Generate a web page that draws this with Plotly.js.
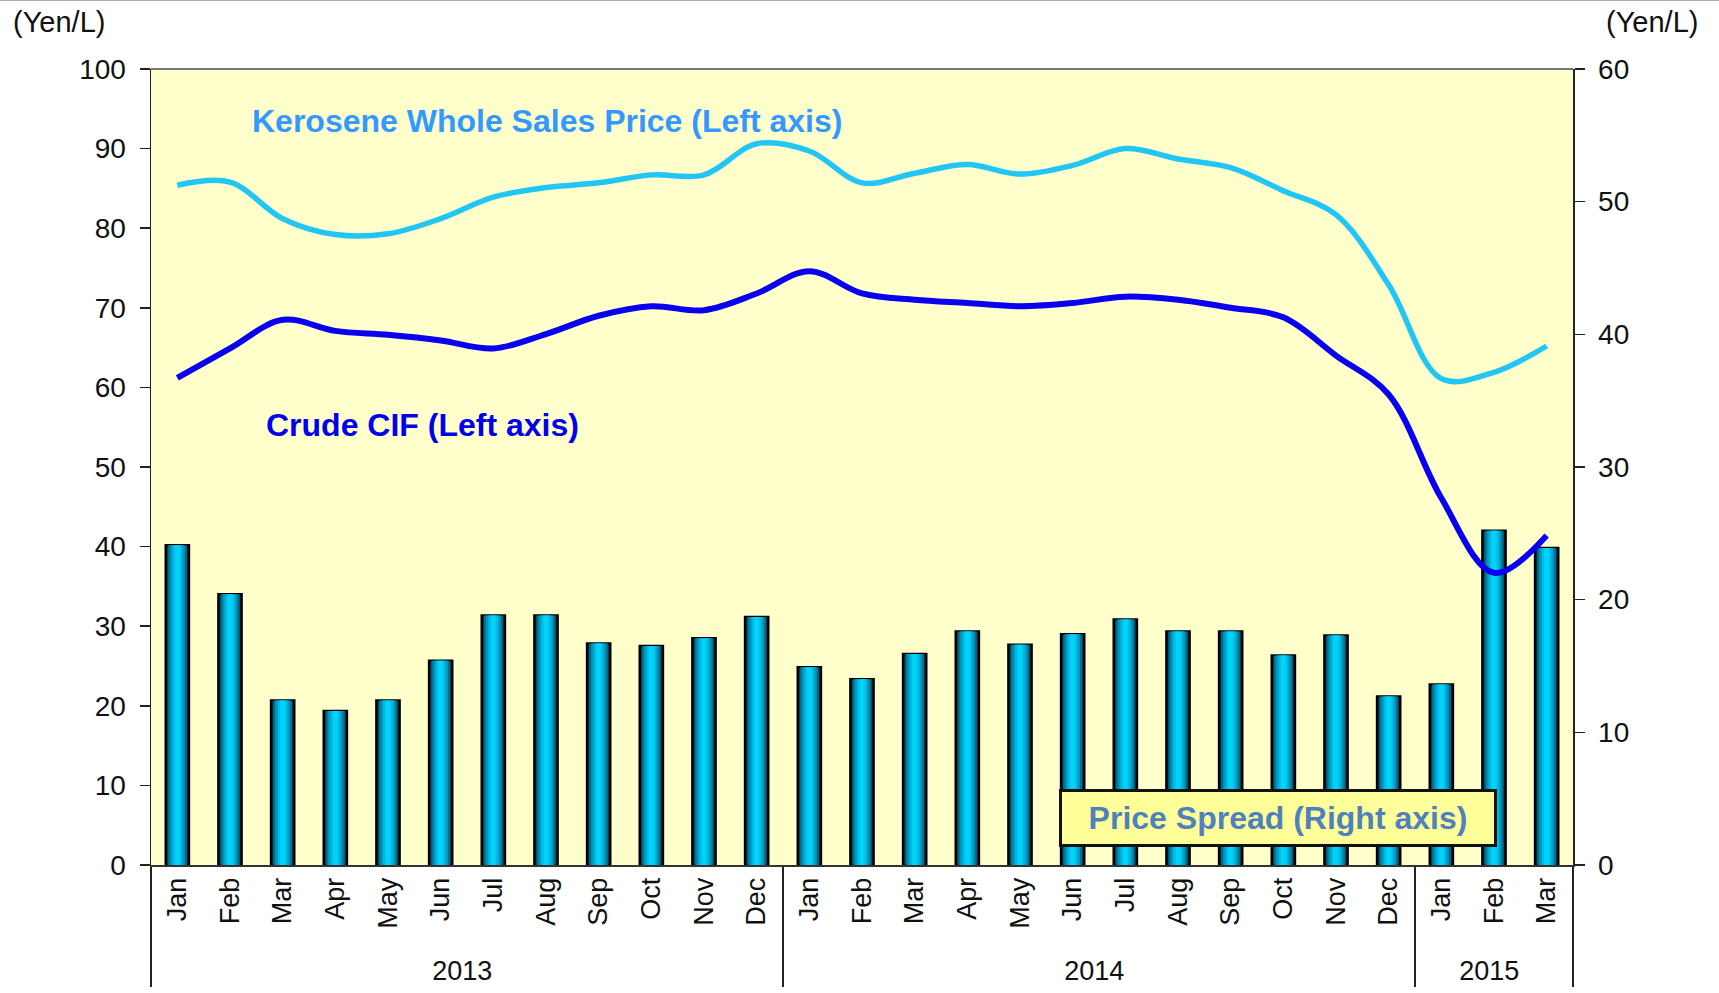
<!DOCTYPE html>
<html>
<head>
<meta charset="utf-8">
<script src="https://cdn.plot.ly/plotly-3.0.1.min.js"></script>
<style>html,body{margin:0;padding:0;background:#fff;}#chart{width:1719px;height:993px;}</style>
</head>
<body>
<div id="chart"></div>
<script>
const years = ["2013","2013","2013","2013","2013","2013","2013","2013","2013","2013","2013","2013",
               "2014","2014","2014","2014","2014","2014","2014","2014","2014","2014","2014","2014",
               "2015","2015","2015"];
const months = ["Jan","Feb","Mar","Apr","May","Jun","Jul","Aug","Sep","Oct","Nov","Dec",
                "Jan","Feb","Mar","Apr","May","Jun","Jul","Aug","Sep","Oct","Nov","Dec",
                "Jan","Feb","Mar"];
const kerosene = [85.4,85.8,81.2,79.2,79.3,81.2,83.9,85.1,85.7,86.7,86.7,90.6,
                  89.7,85.7,86.9,88.0,86.8,87.9,90.0,88.7,87.6,84.7,81.7,72.9,
                  61.1,61.9,65.2];
const crudeCIF = [61.2,64.9,68.5,67.1,66.6,65.9,64.9,66.7,69.0,70.2,69.7,71.8,
                  74.6,71.8,71.0,70.6,70.2,70.6,71.4,71.0,70.0,68.8,64.0,59.1,
                  46.1,36.7,41.4];
const priceSpread = [24.1,20.4,12.4,11.6,12.4,15.4,18.8,18.8,16.7,16.5,17.1,18.7,
                     14.9,14.0,15.9,17.6,16.6,17.4,18.5,17.6,17.6,15.8,17.3,12.7,
                     13.6,25.2,23.9];

const xcat = [years, months];
const FONT = "Liberation Sans, Arial, sans-serif";

// layered bars to imitate the horizontal gradient fill
const layers = [
  {w:0.44, c:"#00384a", line:{color:"#000", width:2.5}},
  {w:0.36, c:"#006f8e", line:{width:0}},
  {w:0.28, c:"#0098bf", line:{width:0}},
  {w:0.19, c:"#00b8e2", line:{width:0}},
  {w:0.10, c:"#00d2fa", line:{width:0}}
];
const traces = layers.map(L => ({
  type:"bar", x:xcat, y:priceSpread, yaxis:"y", xaxis:"x",
  width:L.w, marker:{color:L.c, line:L.line},
  hoverinfo:"skip", showlegend:false
}));
traces.push({
  type:"scatter", mode:"lines", x:xcat, y:kerosene, yaxis:"y2",
  line:{color:"#22c6f4", width:5.5, shape:"spline", smoothing:1}, showlegend:false
});
traces.push({
  type:"scatter", mode:"lines", x:xcat, y:crudeCIF, yaxis:"y2",
  line:{color:"#0a00f0", width:6, shape:"spline", smoothing:1}, showlegend:false
});

const tickfont = {family:FONT, size:28, color:"#111"};
const layout = {
  width:1719, height:993,
  margin:{l:151, r:146, t:69, b:128},
  paper_bgcolor:"#ffffff", plot_bgcolor:"#ffffcc",
  barmode:"overlay",
  showlegend:false,
  font:{family:FONT},
  xaxis:{
    type:"multicategory", tickangle:-90,
    tickfont:{family:FONT, size:27, color:"#111"},
    showline:true, linecolor:"#333", linewidth:2,
    ticks:"", showgrid:false, zeroline:false,
    showdividers:true, dividercolor:"#222", dividerwidth:1.5,
    mirror:false
  },
  yaxis:{
    side:"right", range:[0,60], dtick:10, tickfont:tickfont,
    showline:true, linecolor:"#222", linewidth:1.5,
    ticks:"outside", ticklen:10, tickwidth:1.5, tickcolor:"#222",
    showgrid:false, zeroline:false, ticklabelstandoff:8
  },
  yaxis2:{
    overlaying:"y", side:"left", range:[0,100], dtick:10, tickfont:tickfont,
    showline:true, linecolor:"#222", linewidth:1.5,
    ticks:"outside", ticklen:10, tickwidth:1.5, tickcolor:"#222",
    showgrid:false, zeroline:false, ticklabelstandoff:8
  },
  yaxis3:{
    overlaying:"y", side:"left", range:[0,100], dtick:10, showticklabels:false,
    ticks:"inside", ticklen:10, tickwidth:1.5, tickcolor:"#222",
    showgrid:false, zeroline:false, showline:false
  },
  yaxis4:{
    overlaying:"y", side:"right", range:[0,60], dtick:10, showticklabels:false,
    ticks:"inside", ticklen:10, tickwidth:1.5, tickcolor:"#222",
    showgrid:false, zeroline:false, showline:false
  },
  shapes:[
    {type:"line", xref:"paper", yref:"paper", x0:0, x1:1, y0:1, y1:1, line:{color:"#777", width:2}},
    {type:"line", xref:"paper", yref:"paper", x0:-0.2, x1:1.2, y0:1.0867, y1:1.0867, line:{color:"#aaa", width:2}}
  ],
  annotations:[
    {text:"(Yen/L)", xref:"paper", yref:"paper", x:-0.0985, y:1.059, xanchor:"left", yanchor:"middle",
     showarrow:false, font:{family:FONT, size:29, color:"#111"}},
    {text:"(Yen/L)", xref:"paper", yref:"paper", x:1.0218, y:1.059, xanchor:"left", yanchor:"middle",
     showarrow:false, font:{family:FONT, size:29, color:"#111"}},
    {text:"<b>Kerosene Whole Sales Price (Left axis)</b>", xref:"paper", yref:"paper", x:0.0696, y:0.9347,
     xanchor:"left", yanchor:"middle", showarrow:false, font:{family:FONT, size:32, color:"#3399ff"}},
    {text:"<b>Crude CIF (Left axis)</b>", xref:"paper", yref:"paper", x:0.0795, y:0.553,
     xanchor:"left", yanchor:"middle", showarrow:false, font:{family:FONT, size:32, color:"#0000ee"}},
    {text:"<b>Price Spread (Right axis)</b>", xref:"paper", yref:"paper", x:0.6385, y:0.059,
     xanchor:"left", yanchor:"middle", showarrow:false, width:430, height:50, align:"center",
     bgcolor:"#ffff99", bordercolor:"#111", borderwidth:3, borderpad:1,
     font:{family:FONT, size:32, color:"#4f81bd"}}
  ]
};
Plotly.newPlot("chart", traces, layout, {displayModeBar:false, staticPlot:true});
</script>
</body>
</html>
